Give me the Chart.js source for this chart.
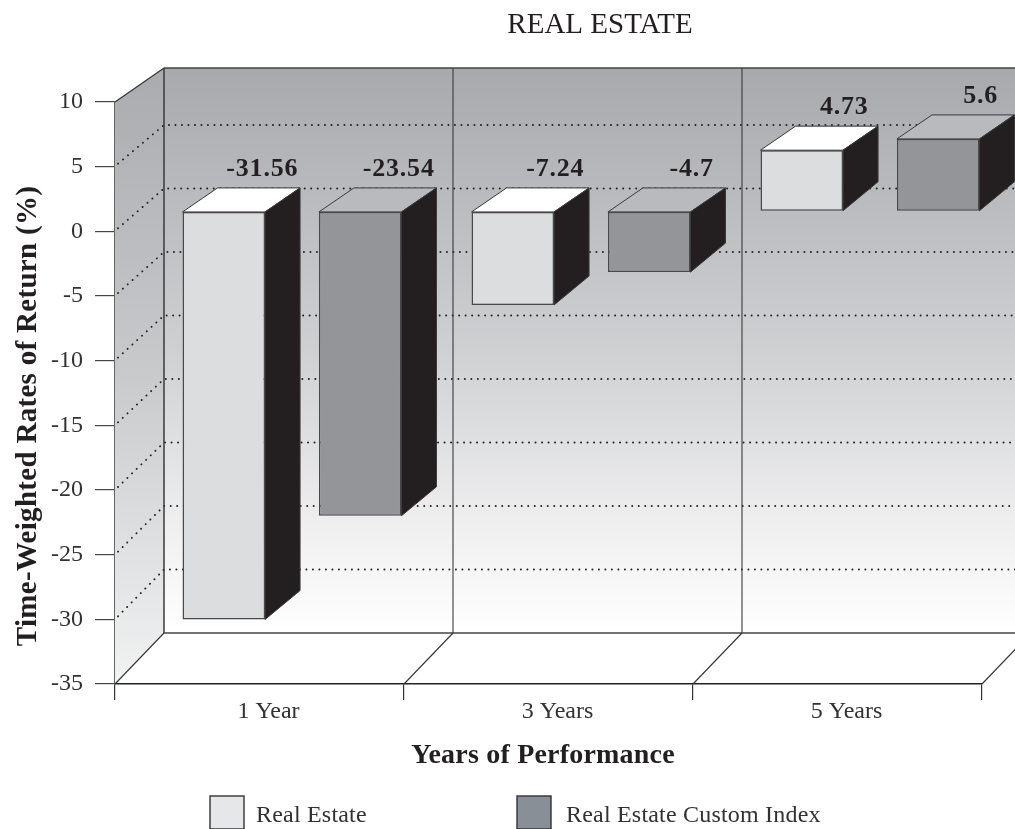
<!DOCTYPE html>
<html>
<head>
<meta charset="utf-8">
<style>html,body{margin:0;padding:0;background:#fff;overflow:hidden}canvas{display:block}</style>
<script src="https://cdn.jsdelivr.net/npm/chart.js@4"></script>
</head>
<body>
<canvas id="c" width="1015" height="829"></canvas>
<script>
const categories = ['1 Year', '3 Years', '5 Years'];
const realEstate = [-31.56, -7.24, 4.73];
const customIndex = [-23.54, -4.7, 5.6];
const seriesNames = ['Real Estate', 'Real Estate Custom Index'];
const yMin = -35, yMax = 10, yStep = 5;

const SERIF = '"Liberation Serif", serif';
const INK = '#333132';
const shiftX = 32.5, shiftY = -20, barDX = 35, barDYTop = -24, barDYBottom = -29;
const wallDX = 49;
const tops = ['#ffffff', '#b9babd'];
const sideColor = '#231f20';
const swatches = [['#e6e7e8', 210], ['#888f96', 517]];
const labelNudge = [0, 4, 4];

function poly(ctx, pts, fill, stroke, lw) {
  ctx.beginPath();
  pts.forEach((p, i) => i ? ctx.lineTo(p[0], p[1]) : ctx.moveTo(p[0], p[1]));
  ctx.closePath();
  if (fill) { ctx.fillStyle = fill; ctx.fill(); }
  if (stroke) { ctx.strokeStyle = stroke; ctx.lineWidth = lw || 1; ctx.stroke(); }
}
function line(ctx, x1, y1, x2, y2, color, lw) {
  ctx.beginPath(); ctx.moveTo(x1, y1); ctx.lineTo(x2, y2);
  ctx.strokeStyle = color; ctx.lineWidth = lw; ctx.stroke();
}
function label(ctx, text, x, y, font, color, spacing, rot) {
  ctx.save();
  ctx.font = font; ctx.fillStyle = color; ctx.textAlign = 'center'; ctx.textBaseline = 'middle';
  ctx.letterSpacing = (spacing || 0) + 'px';
  ctx.translate(x, y);
  if (rot) ctx.rotate(rot);
  ctx.fillText(text, 0, 0);
  ctx.restore();
}

const scene = {
  id: 'scene',
  afterLayout(chart) {
    const t = chart.titleBlock;
    t.left += 109; t.right += 109;
  },
  beforeDatasetsDraw(chart) {
    const { ctx, scales: { x, y } } = chart;
    const W = chart.width;
    const yTop = y.top, yBot = y.bottom, L = x.left;
    const backTop = 68, backBot = 633, backL = L + wallDX;
    const backY = v => 125 + (5 - v) * 12.7;
    ctx.save();
    let g = ctx.createLinearGradient(0, backTop, 0, backBot);
    g.addColorStop(0, '#a7a9ac'); g.addColorStop(0.5, '#cfd0d2'); g.addColorStop(0.8, '#eeeeef'); g.addColorStop(1, '#ffffff');
    ctx.fillStyle = g; ctx.fillRect(backL, backTop, W - backL, backBot - backTop);
    g = ctx.createLinearGradient(0, backTop, 0, yBot);
    g.addColorStop(0, '#a9abae'); g.addColorStop(0.5, '#c9cacc'); g.addColorStop(1, '#f1f2f2');
    poly(ctx, [[L, yTop], [backL, backTop], [backL, backBot], [L, yBot]], g);

    ctx.save();
    ctx.setLineDash([0.1, 6.4]); ctx.lineCap = 'round';
    y.ticks.map(t => t.value).filter(v => v <= 5 && v >= -30).forEach(v => {
      ctx.beginPath();
      ctx.moveTo(L + 3, y.getPixelForValue(v) - 3);
      ctx.lineTo(backL, backY(v)); ctx.lineTo(W, backY(v));
      ctx.strokeStyle = '#222'; ctx.lineWidth = 1.9; ctx.stroke();
    });
    ctx.restore();

    line(ctx, L, yTop, backL, backTop, '#333', 1.2);
    line(ctx, backL, backTop, W, backTop, '#444', 1.5);
    line(ctx, backL, backBot, W, backBot, '#444', 1.4);
    const n = categories.length, cw = (x.right - x.left) / n;
    for (let i = 0; i <= n; i++) {
      const fx = L + i * cw;
      line(ctx, fx, yBot, fx + wallDX, backBot, '#333', 1.1);
      if (i < n) line(ctx, fx + wallDX, backTop, fx + wallDX, backBot, '#3a3a3a', i ? 1.1 : 1.5);
    }
    ctx.restore();
  },
  beforeDatasetDraw(chart, args) {
    const { ctx } = chart;
    ctx.save();
    ctx.translate(shiftX, shiftY);
    args.meta.data.forEach(el => {
      const p = el.getProps(['x', 'y', 'base', 'width'], true);
      const l = p.x - p.width / 2, r = p.x + p.width / 2;
      const top = Math.min(p.y, p.base), bot = Math.max(p.y, p.base);
      poly(ctx, [[l, top], [l + barDX, top + barDYTop], [r + barDX, top + barDYTop], [r, top]], tops[args.index], '#3b3839', 1);
      poly(ctx, [[r, top], [r + barDX, top + barDYTop], [r + barDX, bot + barDYBottom], [r, bot]], sideColor, '#3b3839', 1);
    });
  },
  afterDatasetDraw(chart) { chart.ctx.restore(); },
  afterDatasetsDraw(chart) {
    const { ctx } = chart;
    chart.data.datasets.forEach((ds, i) => {
      chart.getDatasetMeta(i).data.forEach((el, j) => {
        const p = el.getProps(['x', 'y', 'base'], true);
        const top = Math.min(p.y, p.base) + shiftY;
        label(ctx, String(ds.data[j]), p.x + shiftX + 38.5 + labelNudge[j], top - 43, 'bold 26px ' + SERIF, '#231f20', 0.8);
      });
    });
  },
  afterDraw(chart) {
    const { ctx } = chart;
    label(ctx, 'Time-Weighted Rates of Return (%)', 29, 416, 'bold 29px ' + SERIF, '#231f20', 0.3, -Math.PI / 2);
    label(ctx, 'Years of Performance', 543, 756, 'bold 28px ' + SERIF, '#231f20', 0.2);
    swatches.forEach(([col, sx], i) => {
      ctx.fillStyle = col; ctx.strokeStyle = '#333'; ctx.lineWidth = 1.4;
      ctx.fillRect(sx, 796, 34, 33); ctx.strokeRect(sx, 796, 34, 33);
      ctx.save();
      ctx.font = '24px ' + SERIF; ctx.fillStyle = INK; ctx.textAlign = 'left'; ctx.textBaseline = 'middle';
      ctx.letterSpacing = '0.2px';
      ctx.fillText(seriesNames[i], sx + (i ? 49 : 46), 816);
      ctx.restore();
    });
  }
};

const tickFont = { family: SERIF, size: 24 };
new Chart(document.getElementById('c').getContext('2d'), {
  type: 'bar',
  plugins: [scene],
  data: {
    labels: categories,
    datasets: [
      { label: seriesNames[0], data: realEstate, backgroundColor: '#dcddde', borderColor: '#4a4849', borderWidth: 1.5, borderSkipped: false, clip: false },
      { label: seriesNames[1], data: customIndex, backgroundColor: '#939598', borderColor: '#4a4849', borderWidth: 1.5, borderSkipped: false, clip: false }
    ]
  },
  options: {
    responsive: false,
    animation: false,
    devicePixelRatio: 1,
    categoryPercentage: 0.944,
    barPercentage: 0.605,
    layout: { padding: { left: 0, right: 33, top: 0, bottom: 0 } },
    plugins: {
      legend: { display: false },
      tooltip: { enabled: false },
      title: {
        display: true,
        text: 'REAL ESTATE',
        color: '#231f20',
        font: { family: SERIF, size: 29, weight: 'normal', lineHeight: 1.2 },
        padding: { top: 8.1, bottom: 59.1 }
      }
    },
    scales: {
      x: {
        type: 'category',
        offset: true,
        afterFit(s) { s.height = 145; },
        grid: { offset: true, drawOnChartArea: false, tickLength: 16, color: '#333', lineWidth: 1.2 },
        border: { display: true, color: '#222', width: 1.4 },
        ticks: { font: tickFont, color: INK, padding: -3, maxRotation: 0, labelOffset: 9 }
      },
      y: {
        type: 'linear',
        min: yMin,
        max: yMax,
        afterFit(s) { s.width = 115; },
        grid: { drawOnChartArea: false, tickLength: 20, color: '#444', lineWidth: 1.2 },
        border: { display: true, color: '#666', width: 1.5 },
        ticks: { stepSize: yStep, font: tickFont, color: INK, padding: 12 }
      }
    }
  }
});
</script>
</body>
</html>
